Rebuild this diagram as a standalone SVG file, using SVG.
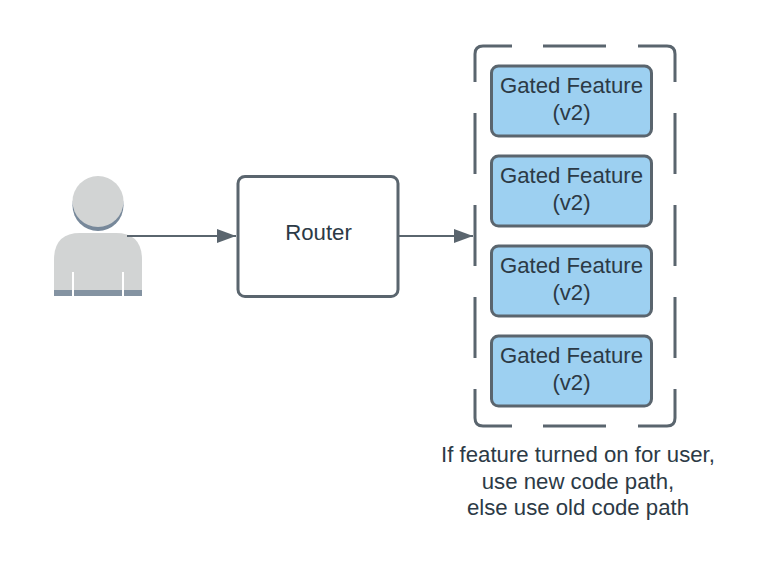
<svg xmlns="http://www.w3.org/2000/svg" width="759" height="568" viewBox="0 0 759 568">
<style>
text{font-family:"Liberation Sans",Arial,sans-serif;font-size:22.200px;fill:#2c3a46;text-anchor:middle}
.box{fill:#9dd0f1;stroke:#5a656e;stroke-width:3}
.line{fill:none;stroke:#5a656e;stroke-width:2}
</style>
<defs>
<marker id="arrow" markerUnits="userSpaceOnUse" markerWidth="19" markerHeight="14" refX="19" refY="7" orient="auto"><path d="M0 0L19 7L0 14Z" fill="#5a656e"/></marker>
<g id="feature"><rect class="box" x="491.500" y="0" width="160" height="70" rx="7"/><text x="571.500" y="26.500">Gated Feature</text><text x="571.500" y="53.500">(v2)</text></g>
</defs>
<rect width="759" height="568" fill="#fff"/>
<g id="user">
<circle cx="98" cy="205.500" r="25.500" fill="#77889a"/>
<circle cx="98" cy="201.500" r="25.500" fill="#d2d4d4"/>
<path d="M54 296V260Q54 233 80 233H116Q142 233 142 260V296Z" fill="#d2d4d4"/>
<rect x="54" y="290" width="88" height="6" fill="#8493a2"/>
<rect x="72" y="272" width="2" height="24" fill="#fff"/>
<rect x="122" y="272" width="2" height="24" fill="#fff"/>
</g>
<g id="router"><rect x="238" y="176.500" width="160" height="120" rx="7" fill="#fff" stroke="#5a656e" stroke-width="3"/><text x="318.500" y="240">Router</text></g>
<g id="gated-group"><path d="M512 46H483Q475 46 475 54V82M475 113V174M475 205V266M475 297V358M475 389V418Q475 426 483 426H512M543 426H606M638 426H667Q675 426 675 418V389M675 358V297M675 266V205M675 174V113M675 82V54Q675 46 667 46H638M606 46H543" fill="none" stroke="#5a656e" stroke-width="3"/></g>
<use id="feature-1" href="#feature" y="66"/>
<use id="feature-2" href="#feature" y="156"/>
<use id="feature-3" href="#feature" y="246"/>
<use id="feature-4" href="#feature" y="336"/>
<g id="connectors">
<path class="line" d="M127 236H236" marker-end="url(#arrow)"/>
<path class="line" d="M399 236H473" marker-end="url(#arrow)"/>
</g>
<g id="note"><text x="578" y="462">If feature turned on for user,</text><text x="578" y="488.500">use new code path,</text><text x="578" y="515">else use old code path</text></g>
</svg>
